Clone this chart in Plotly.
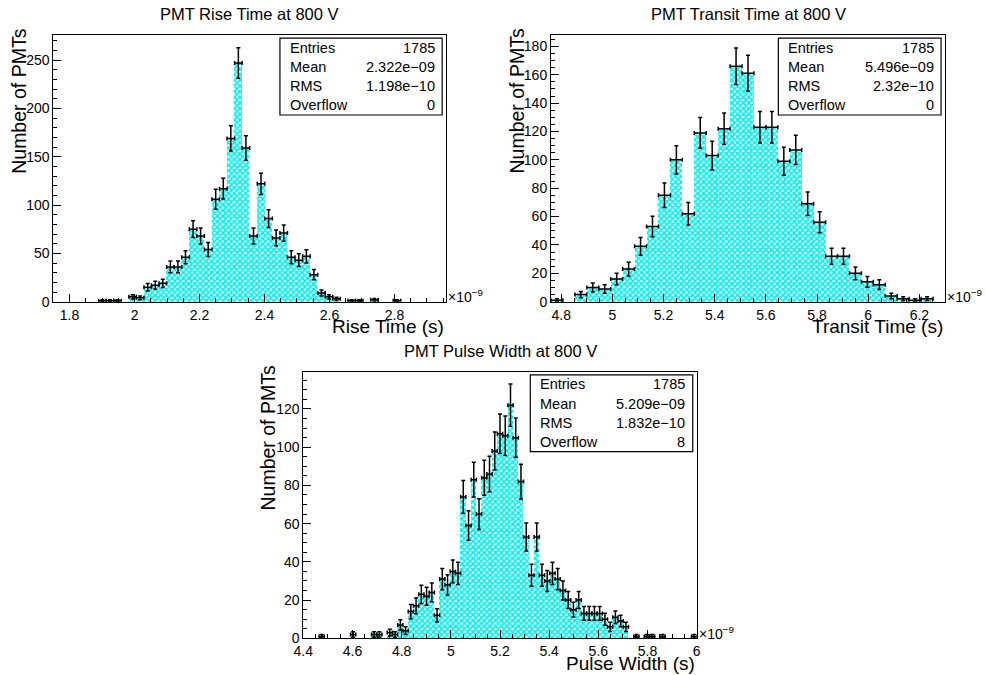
import numpy as np
import plotly.graph_objects as go

FONT = "Liberation Sans, Arial, Helvetica, sans-serif"

# ---------------- data (x in units of 1e-9 s) ----------------
rise_lo, rise_hi = 1.75, 2.959
rise_counts = [0, 0, 0, 0, 0, 0, 1, 1, 1, 0,
               5, 4, 15, 17, 19, 36, 36, 46, 75, 68,
               54, 106, 117, 169, 247, 159, 68, 122, 86, 66,
               71, 46, 43, 47, 28, 9, 5, 3, 0, 1,
               1, 0, 2, 0, 0, 1, 0, 0, 0, 0,
               0, 0]
rise_stats = ["1785", "2.322e\u221209", "1.198e\u221210", "0"]

transit_lo, transit_hi = 4.76, 6.30
transit_counts = [1, 0, 5, 10, 9, 16, 23, 39, 53, 75,
                  100, 62, 119, 103, 122, 166, 161, 123, 123, 99,
                  107, 69, 56, 32, 32, 20, 14, 12, 4, 2,
                  1, 2, 0]
transit_stats = ["1785", "5.496e\u221209", "2.32e\u221210", "0"]

pulse_lo, pulse_hi = 4.4, 6.0
pulse_counts = [0, 0, 0, 1, 0, 0, 0, 0, 0, 2,
                0, 0, 0, 2, 2, 0, 3, 2, 7, 4,
                14, 17, 23, 22, 24, 12, 31, 28, 35, 34,
                74, 59, 83, 65, 84, 86, 98, 107, 106, 122,
                105, 82, 53, 33, 53, 33, 30, 34, 31, 25,
                20, 15, 20, 13, 13, 13, 13, 10, 6, 11,
                9, 6, 0, 1, 0, 1, 1, 0, 1, 0,
                0, 0, 0, 0, 1]
pulse_stats = ["1785", "5.209e\u221209", "1.832e\u221210", "8"]

stat_names = ["Entries", "Mean", "RMS", "Overflow"]

titles = ["PMT Rise Time at 800 V", "PMT Transit Time at 800 V", "PMT Pulse Width at 800 V"]
xtitles = ["Rise Time (s)", "Transit Time (s)", "Pulse Width (s)"]
ytitle = "Number of PMTs"

# ---------------- layout geometry (window pixels) ----------------
W, H = 986, 675


def px(x):
    return x / W


def py(y):
    return 1 - y / H


panels = [
    dict(lo=rise_lo, hi=rise_hi, counts=rise_counts, stats=rise_stats,
         box=(53.3, 446.1, 35, 301.7), ymax=276, xd=0.2, xm=0.05, yd=50, ym=10),
    dict(lo=transit_lo, hi=transit_hi, counts=transit_counts, stats=transit_stats,
         box=(551.0, 945.0, 35, 301.7), ymax=188, xd=0.2, xm=0.05, yd=20, ym=5),
    dict(lo=pulse_lo, hi=pulse_hi, counts=pulse_counts, stats=pulse_stats,
         box=(303.3, 696.7, 371.7, 638.3), ymax=139.5, xd=0.2, xm=0.05, yd=20, ym=5),
]

fig = go.Figure()
layout = dict(template="none", width=W, height=H, autosize=False,
              margin=dict(l=0, r=0, t=0, b=0, autoexpand=False),
              paper_bgcolor="white", plot_bgcolor="white", showlegend=False,
              bargap=0, font=dict(family=FONT, color="black", size=14))
annotations = []
shapes = []

for k, p in enumerate(panels):
    n = len(p["counts"])
    w = (p["hi"] - p["lo"]) / n
    centers = p["lo"] + (np.arange(n) + 0.5) * w
    c = np.array(p["counts"], dtype=float)
    sfx = "" if k == 0 else str(k + 1)
    xa, ya = "x" + sfx, "y" + sfx
    fig.add_trace(go.Bar(
        x=centers, y=c, width=w, xaxis=xa, yaxis=ya, hoverinfo="skip",
        marker=dict(color="white", line=dict(width=0),
                    pattern=dict(shape="x", fgcolor="#00eeee", bgcolor="white",
                                 size=4, solidity=0.65, fillmode="replace"))))
    m = c > 0
    fig.add_trace(go.Scatter(
        x=centers[m], y=c[m], xaxis=xa, yaxis=ya, mode="markers",
        marker=dict(size=1, color="black"), hoverinfo="skip",
        error_y=dict(type="data", array=np.sqrt(c[m]), color="black", thickness=1.5, width=2),
        error_x=dict(type="data", array=np.full(int(m.sum()), w / 2), color="black",
                     thickness=1.5, width=2)))

    x0, x1, y0, y1 = p["box"]
    axis_common = dict(showline=True, linecolor="black", linewidth=1, mirror=True,
                       ticks="inside", tickcolor="black", tickwidth=1,
                       showgrid=False, zeroline=False, automargin=False,
                       tickfont=dict(family=FONT, size=14, color="black"))
    layout["xaxis" + sfx] = dict(
        axis_common, domain=[px(x0), px(x1)], range=[p["lo"] - 1e-6, p["hi"] + 1e-6],
        anchor=ya, dtick=p["xd"], tick0=0, ticklen=8,
        minor=dict(ticks="inside", dtick=p["xm"], tick0=0, ticklen=4, tickcolor="black"))
    layout["yaxis" + sfx] = dict(
        axis_common, domain=[py(y1), py(y0)], range=[0, p["ymax"]],
        anchor=xa, dtick=p["yd"], ticklen=8,
        minor=dict(ticks="inside", dtick=p["ym"], ticklen=4, tickcolor="black"))

    cx = (x0 + x1) / 2
    # title
    annotations.append(dict(text=titles[k], x=px(cx), y=py(y0 - 21), xref="paper", yref="paper",
                            xanchor="center", yanchor="middle", showarrow=False,
                            font=dict(family=FONT, size=16.5, color="black")))
    # x title
    annotations.append(dict(text=xtitles[k], x=px(x1), y=py(y1 + 25), xref="paper", yref="paper",
                            xanchor="right", yanchor="middle", showarrow=False,
                            font=dict(family=FONT, size=19, color="black")))
    # y title
    annotations.append(dict(text=ytitle, x=px(x0 - 35), y=py(y0 - 8), xref="paper", yref="paper",
                            xanchor="center", yanchor="top", textangle=-90, showarrow=False,
                            font=dict(family=FONT, size=19.5, color="black")))
    # exponent label
    annotations.append(dict(text="\u00d710<sup>\u22129</sup>", x=1.0, y=0.02,
                            xref=xa + " domain", yref=ya + " domain",
                            xanchor="left", yanchor="middle", showarrow=False,
                            font=dict(family=FONT, size=14, color="black")))
    # stats box
    bx0, bx1, by0, by1 = 0.577, 0.99, 0.70, 0.988
    shapes.append(dict(type="rect", xref=xa + " domain", yref=ya + " domain",
                       x0=bx0, x1=bx1, y0=by0, y1=by1,
                       line=dict(color="black", width=1.2), fillcolor="white", layer="above"))
    for r in range(4):
        yy = by1 - (r + 0.5) * (by1 - by0) / 4
        annotations.append(dict(text=stat_names[r], x=bx0 + 0.02, y=yy,
                                xref=xa + " domain", yref=ya + " domain",
                                xanchor="left", yanchor="middle", showarrow=False,
                                font=dict(family=FONT, size=14.5, color="black")))
        annotations.append(dict(text=p["stats"][r], x=bx1 - 0.014, y=yy,
                                xref=xa + " domain", yref=ya + " domain",
                                xanchor="right", yanchor="middle", showarrow=False,
                                font=dict(family=FONT, size=14.5, color="black")))

layout["annotations"] = annotations
layout["shapes"] = shapes
fig.update_layout(**layout)
fig.write_html("out.html", config={"displayModeBar": False},
               post_script="document.body.style.margin='0';document.body.style.overflow='hidden';")
